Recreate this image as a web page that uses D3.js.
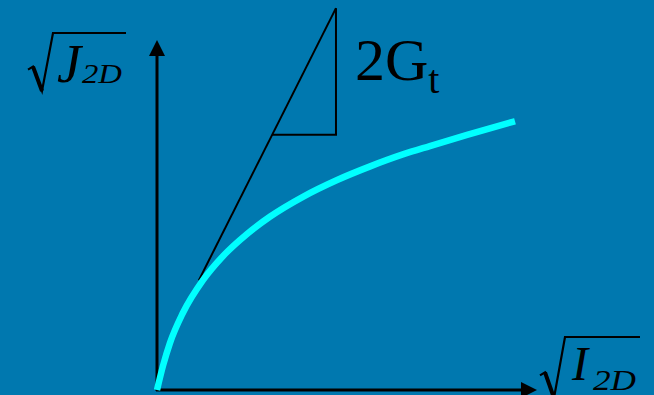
<!DOCTYPE html>
<html>
<head>
<meta charset="utf-8">
<script src="https://cdn.jsdelivr.net/npm/d3@7/dist/d3.min.js"></script>
<style>
  html, body { margin: 0; padding: 0; background: #0078AF; }
  svg { display: block; }
</style>
</head>
<body>
<svg id="chart" width="654" height="395"></svg>
<script>
// sqrt(I_2D) along x, sqrt(J_2D) along y (arbitrary units)
const sqrtI = [0, 0.16, 0.34, 0.68, 1.21, 1.74, 2.37, 2.97, 3.84, 4.74, 5.61, 6.47, 7.18, 8.16, 9.42];
const sqrtJ = [0, 0.70, 1.34, 2.20, 3.14, 3.83, 4.46, 4.95, 5.52, 6.00, 6.39, 6.73, 6.97, 7.29, 7.68];

// initial slope 2G_t: tangent line and slope triangle
const tangentX = [1.1, 4.71];
const slopeTriangle = { x0: 3.03, x1: 4.71, y0: 7.29, y1: 10.91 };
const slope = (slopeTriangle.y1 - slopeTriangle.y0) / (slopeTriangle.x1 - slopeTriangle.x0);

const xLabel = { main: "I", sub: "2D" };
const yLabel = { main: "J", sub: "2D" };
const slopeLabel = { main: "2G", sub: "t" };

const svg = d3.select("#chart");
const W = 654, H = 395;
svg.append("rect").attr("width", W).attr("height", H).attr("fill", "#0078AF");

const x = d3.scaleLinear().domain([0, 10]).range([157, 537]);
const y = d3.scaleLinear().domain([0, 10]).range([390, 40]);

// tangent line (drawn beneath the curve)
const tLine = d3.line().x(d => x(d)).y(d => y(slopeTriangle.y0 + slope * (d - slopeTriangle.x0)));
svg.append("path").attr("d", tLine(tangentX))
  .attr("fill", "none").attr("stroke", "#000").attr("stroke-width", 2);

// slope triangle legs
svg.append("path")
  .attr("d", d3.line()([[x(slopeTriangle.x0), y(slopeTriangle.y0)],
                        [x(slopeTriangle.x1), y(slopeTriangle.y0)],
                        [x(slopeTriangle.x1), y(slopeTriangle.y1)]]))
  .attr("fill", "none").attr("stroke", "#000").attr("stroke-width", 2);

// axes with arrowheads
const axes = svg.append("g").attr("stroke", "#000").attr("fill", "#000");
axes.append("line").attr("x1", x(0)).attr("y1", y(0) + 1).attr("x2", x(0)).attr("y2", y(10) + 12)
  .attr("stroke-width", 3);
axes.append("line").attr("x1", x(0) - 1).attr("y1", y(0)).attr("x2", x(10) - 12).attr("y2", y(0))
  .attr("stroke-width", 3);
axes.append("path").attr("stroke", "none")
  .attr("d", `M${x(0)},${y(10)} L${x(0) - 8},${y(10) + 16} L${x(0) + 8},${y(10) + 16} Z`);
axes.append("path").attr("stroke", "none")
  .attr("d", `M${x(10)},${y(0)} L${x(10) - 16},${y(0) - 8} L${x(10) - 16},${y(0) + 8} Z`);

// response curve
const curve = d3.line().x(d => x(d[0])).y(d => y(d[1])).curve(d3.curveMonotoneX);
svg.append("path").attr("d", curve(sqrtI.map((v, i) => [v, sqrtJ[i]])))
  .attr("fill", "none").attr("stroke", "#00FFFF").attr("stroke-width", 6.5)
  .attr("stroke-linecap", "butt").attr("stroke-linejoin", "round");

// radical sign drawn as a path, followed by italic symbol with subscript
function sqrtLabel(x0, top, bottom, barEnd, lbl, mainX, mainBase, mainSize, subX, subBase, subSize, subLen) {
  const g = svg.append("g");
  const midY = bottom - (bottom - top) * 0.42;
  g.append("path")
    .attr("d", `M${x0},${midY + 3} L${x0 + 5},${midY} L${x0 + 14},${bottom} L${x0 + 25},${top} L${barEnd},${top}`)
    .attr("fill", "none").attr("stroke", "#000").attr("stroke-width", 2.2).attr("stroke-linejoin", "miter");
  g.append("path")
    .attr("d", `M${x0 + 5},${midY} L${x0 + 14},${bottom}`)
    .attr("stroke", "#000").attr("stroke-width", 4);
  g.append("text").attr("x", mainX).attr("y", mainBase)
    .attr("font-family", "Liberation Serif, serif").attr("font-style", "italic")
    .attr("font-size", mainSize).attr("fill", "#000").text(lbl.main);
  g.append("text").attr("x", subX).attr("y", subBase)
    .attr("font-family", "Liberation Serif, serif").attr("font-style", "italic")
    .attr("font-size", subSize).attr("fill", "#000")
    .attr("textLength", subLen).attr("lengthAdjust", "spacingAndGlyphs").text(lbl.sub);
}

sqrtLabel(28, 33, 91, 126, yLabel, 57, 82, 54, 82, 83, 28, 40);
sqrtLabel(540, 337, 398, 640, xLabel, 572, 380, 48, 593, 390, 30, 43);

// slope label
const sl = svg.append("text").attr("x", 355).attr("y", 80)
  .attr("font-family", "Liberation Serif, serif").attr("font-size", 60).attr("fill", "#000");
sl.append("tspan").text(slopeLabel.main);
sl.append("tspan").attr("font-size", 40).attr("dy", 13).text(slopeLabel.sub);
</script>
</body>
</html>
